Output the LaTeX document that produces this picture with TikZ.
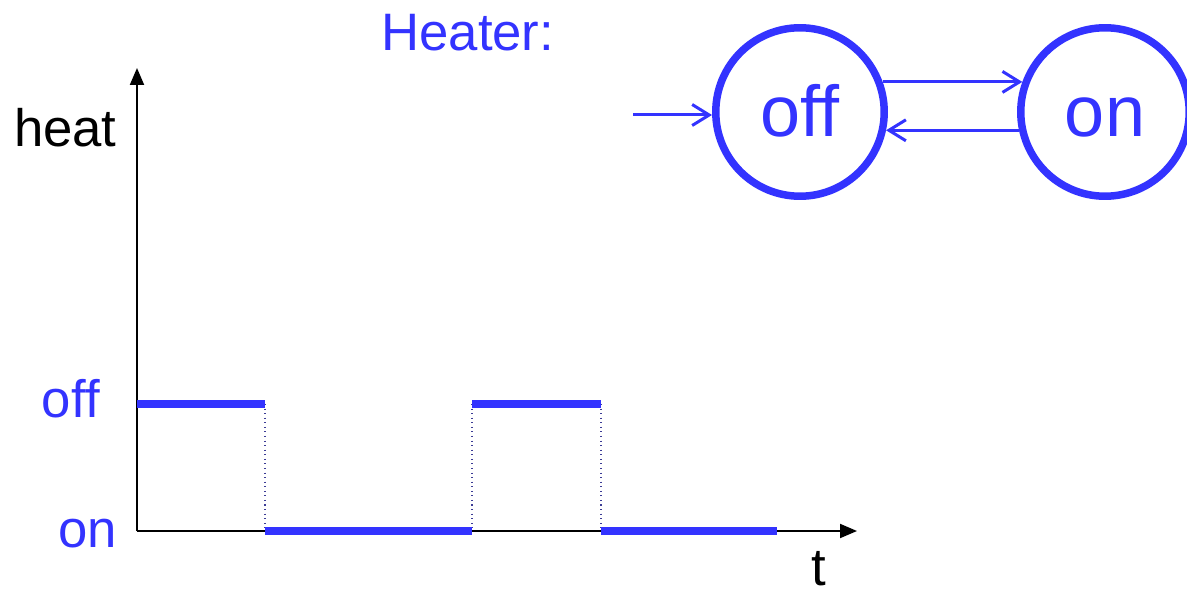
\documentclass[tikz,border=0pt]{standalone}
\usepackage{fontspec}
\setmainfont{Liberation Sans}
\usetikzlibrary{arrows.meta,positioning}
\definecolor{myblue}{RGB}{51,51,255}
\definecolor{mynavy}{RGB}{60,60,150}

\begin{document}
\begin{tikzpicture}[x=0.02cm,y=-0.02cm,
  every node/.style={font=\fontsize{30}{36}\selectfont,inner sep=0pt},
  state/.style={draw=myblue,circle,line width=0.15cm,minimum size=3.37cm,
        text=myblue,font=\fontsize{41}{48}\selectfont,
        text height=28pt,text depth=0pt},
  trans/.style={-{Straight Barb[length=0.34cm,width=0.42cm]},myblue,line width=0.06cm},
  axis/.style={-{Triangle[length=0.34cm,width=0.28cm]},black,line width=0.04cm},
  level/.style={myblue,line width=0.15cm},
  switch/.style={mynavy,dotted,line width=0.6pt}]
  \useasboundingbox (0,0) rectangle (1187,594);

  % automaton
  \node[anchor=base west,text=myblue] (heater) at (381,51) {Heater:};
  \node[state] (off) at (800,112) {off};
  \node[state] (on) at (1105,112) {on};
  \coordinate (start) at (633,115);
  \draw[trans] (start) -- (start -| off.west);
  \draw[trans] (off.20) -- (on.160);
  \draw[trans] (on.192) -- (off.-12);

  % signal over time
  \coordinate (O) at (137,531);
  \coordinate (ytop) at (137,68);
  \coordinate (xend) at (857,531);
  \draw[axis] (O) -- (ytop);
  \draw[axis] (O) -- (xend);
  \node[anchor=base east] (heat) at (117,147) {heat};
  \node[anchor=base east,text=myblue] (loff) at (100,418) {off};
  \node[anchor=base east,text=myblue] (lon) at (117,547) {on};
  \node[anchor=base west] (tlab) at (811,585) {t};
  \foreach \xx in {265,472,601}
    \draw[switch] (\xx,404) -- (\xx,531);
  \foreach \xa/\xb/\yy in {137/265/404,265/472/531,472/601/404,601/777/531}
    \draw[level] (\xa,\yy) -- (\xb,\yy);
\end{tikzpicture}
\end{document}
